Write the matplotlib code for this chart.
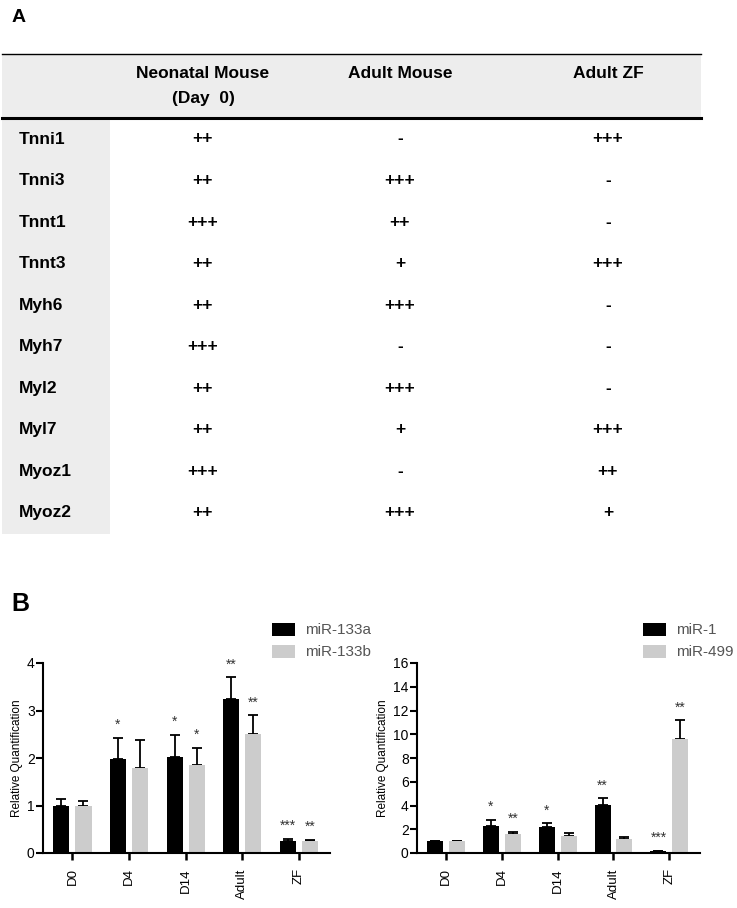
import matplotlib
matplotlib.use("Agg")
import matplotlib.pyplot as plt
from matplotlib.patches import Rectangle
import numpy as np

plt.rcParams['font.family'] = ['Liberation Sans', 'DejaVu Sans']

# ---------------- data ----------------
genes = ["Tnni1", "Tnni3", "Tnnt1", "Tnnt3", "Myh6", "Myh7", "Myl2", "Myl7", "Myoz1", "Myoz2"]
col_headers = ["Neonatal Mouse\n(Day  0)", "Adult Mouse", "Adult ZF"]
neonatal = ["++", "++", "+++", "++", "++", "+++", "++", "++", "+++", "++"]
adult_mouse = ["-", "+++", "++", "+", "+++", "-", "+++", "+", "-", "+++"]
adult_zf = ["+++", "-", "-", "+++", "-", "-", "-", "+++", "++", "+"]

groups = ["D0", "D4", "D14", "Adult", "ZF"]
mir133a = [1.0, 1.97, 2.03, 3.25, 0.25]
mir133a_err = [0.13, 0.46, 0.46, 0.45, 0.05]
mir133b = [1.0, 1.80, 1.85, 2.50, 0.25]
mir133b_err = [0.10, 0.58, 0.37, 0.40, 0.03]
sig133a = ["", "*", "*", "**", "***"]
sig133b = ["", "", "*", "**", "**"]

mir1 = [1.0, 2.25, 2.15, 4.05, 0.15]
mir1_err = [0.05, 0.55, 0.35, 0.55, 0.03]
mir499 = [1.0, 1.60, 1.40, 1.20, 9.60]
mir499_err = [0.05, 0.20, 0.25, 0.15, 1.60]
sig1 = ["", "*", "*", "**", "***"]
sig499 = ["", "**", "", "", "**"]

W, H = 737, 908
fig = plt.figure(figsize=(W / 100, H / 100), dpi=100)

# ---------------- panel A table (pixel coordinates) ----------------
axT = fig.add_axes([0, 0, 1, 1])
axT.set_xlim(0, W)
axT.set_ylim(H, 0)
axT.axis("off")

gray = "#ededed"
axT.add_patch(Rectangle((2, 54), 699, 64, facecolor=gray, edgecolor="none", zorder=0))
axT.add_patch(Rectangle((2, 118), 108, 416, facecolor=gray, edgecolor="none", zorder=0))
axT.plot([2, 701], [54, 54], color="black", lw=1.0)
axT.plot([2, 701], [118, 118], color="black", lw=2.2)

axT.text(12, 18, "A", fontsize=14, fontweight="bold", ha="left", va="center")
axT.text(11, 604, "B", fontsize=18, fontweight="bold", ha="left", va="center")

fs = 12.5
col_x = [203, 400, 608]
axT.text(col_x[0], 73, "Neonatal Mouse", fontsize=fs, fontweight="bold", ha="center", va="center")
axT.text(col_x[0], 98, "(Day  0)", fontsize=fs, fontweight="bold", ha="center", va="center")
axT.text(col_x[1], 73, col_headers[1], fontsize=fs, fontweight="bold", ha="center", va="center")
axT.text(col_x[2], 73, col_headers[2], fontsize=fs, fontweight="bold", ha="center", va="center")

row0, dy = 139, 41.55
for i, g in enumerate(genes):
    y = row0 + i * dy
    axT.text(19, y, g, fontsize=fs, fontweight="bold", ha="left", va="center")
    for cx, vals in zip(col_x, [neonatal, adult_mouse, adult_zf]):
        axT.text(cx, y, vals[i], fontsize=fs, fontweight="bold", ha="center", va="center")

# ---------------- panel B bar charts ----------------
def bar_panel(rect, a, aerr, b, berr, siga, sigb, ymax, yticks, labels, leg_pos):
    ax = fig.add_axes(rect)
    x = np.arange(len(groups))
    off, bw = 0.195, 0.285
    ax.bar(x - off, a, bw, color="black", zorder=2)
    ax.bar(x + off, b, bw, color="#cccccc", zorder=2)
    ax.errorbar(x - off, a, yerr=[np.zeros(len(a)), aerr], fmt="none", ecolor="black",
                elinewidth=1.3, capsize=3.5, capthick=1.3, zorder=1)
    ax.errorbar(x + off, b, yerr=[np.zeros(len(b)), berr], fmt="none", ecolor="black",
                elinewidth=1.3, capsize=3.5, capthick=1.3, zorder=1)
    pad = ymax * 0.03
    for xi, v, e, s in zip(x - off, a, aerr, siga):
        if s:
            ax.text(xi, v + e + pad, s, ha="center", va="bottom", fontsize=10, color="#333333")
    for xi, v, e, s in zip(x + off, b, berr, sigb):
        if s:
            ax.text(xi, v + e + pad, s, ha="center", va="bottom", fontsize=10, color="#333333")
    ax.set_ylim(0, ymax)
    ax.set_xlim(-0.52, 4.55)
    ax.set_yticks(yticks)
    ax.set_xticks(x)
    ax.set_xticklabels(groups, rotation=90, fontsize=9.5)
    ax.tick_params(axis="y", labelsize=10, width=1.5, length=5, pad=1)
    ax.tick_params(axis="x", width=1.8, length=5, pad=6)
    for sp in ["top", "right"]:
        ax.spines[sp].set_visible(False)
    for sp in ["left", "bottom"]:
        ax.spines[sp].set_linewidth(1.5)
    ax.set_ylabel("Relative Quantification", fontsize=8.5, labelpad=3)
    # legend (figure pixel coords)
    lx, ly = leg_pos
    axT.add_patch(Rectangle((lx, ly - 7), 23, 13, facecolor="black", edgecolor="none"))
    axT.add_patch(Rectangle((lx, ly + 15), 23, 13, facecolor="#cccccc", edgecolor="none"))
    axT.text(lx + 33, ly, labels[0], fontsize=11, color="#555555", ha="left", va="center")
    axT.text(lx + 33, ly + 22, labels[1], fontsize=11, color="#555555", ha="left", va="center")
    return ax

def frac(l, t, r, b):
    return [l / W, (H - b) / H, (r - l) / W, (b - t) / H]

bar_panel(frac(43, 663, 330, 853), mir133a, mir133a_err, mir133b, mir133b_err,
          sig133a, sig133b, 4, [0, 1, 2, 3, 4], ["miR-133a", "miR-133b"], (272, 630))
bar_panel(frac(417, 663, 700, 853), mir1, mir1_err, mir499, mir499_err,
          sig1, sig499, 16, list(range(0, 17, 2)), ["miR-1", "miR-499"], (643, 630))

fig.savefig("out.png", dpi=100)
